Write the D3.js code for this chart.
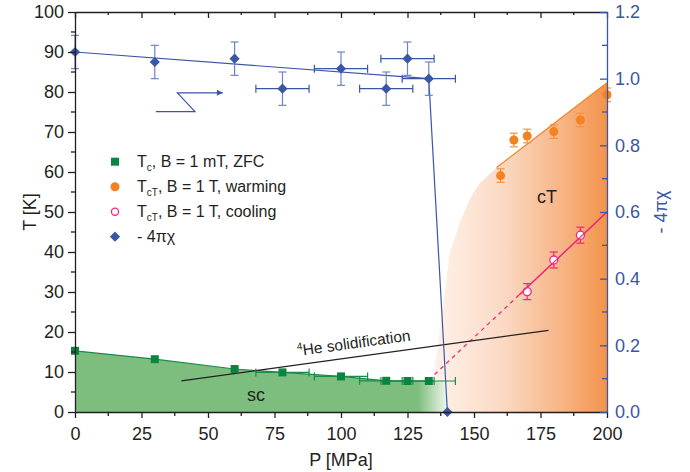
<!DOCTYPE html>
<html>
<head>
<meta charset="utf-8">
<script src="https://cdn.jsdelivr.net/npm/d3@7"></script>
<style>
  body { margin: 0; background: #fff; }
  svg { font-family: "Liberation Sans", Arial, sans-serif; }
</style>
</head>
<body>
<div id="chart"></div>
<script>
// ---- data ----
var scP = [0, 30, 60, 78, 100, 117, 125, 133];
var scT = [15.3, 13.2, 10.75, 9.9, 8.9, 7.8, 7.75, 7.75];
var scPErr = [0, 0, 0, 10, 10, 10, 10, 10];

var warmP = [160, 165, 170, 180, 190, 200];
var warmT = [59.1, 68, 69, 70.1, 73, 79.3];
var warmErr = [1.7, 1.7, 1.7, 1.7, 1.7, 1.7];
var warmFit = [[158.5, 61.1], [200, 82.3]];

var coolP = [170, 180, 190];
var coolT = [30.1, 38, 44.2];
var coolErr = [2, 2, 2];
var coolFitDash = [[133, 8], [167, 29.3]];
var coolFitSolid = [[167, 29.3], [200, 50]];

var chiP = [0, 30, 60, 78, 100, 117, 125, 133, 140];
var chiV = [1.08, 1.05, 1.06, 0.97, 1.03, 0.97, 1.06, 1.0, 0];
var chiPErr = [0, 0, 0, 10, 10, 10, 10, 10, 0];
var chiVErr = [0.05, 0.05, 0.05, 0.05, 0.05, 0.05, 0.05, 0.05, 0];
var chiFit = [[0, 1.08], [133, 1.0], [140, 0]];

var heLine = [[40, 7.8], [178, 20.4]];
var ctEdge = [[134, 0], [135, 10], [137, 20], [139, 30], [141, 40], [145, 48], [149, 54], [152, 57], [158.5, 61.1], [200, 82.3], [200, 0]];
var scEdgeEnd = [[140, 7.6], [140, 0], [0, 0]];

var xTicks = [0, 25, 50, 75, 100, 125, 150, 175, 200];
var tTicks = [0, 10, 20, 30, 40, 50, 60, 70, 80, 90, 100];
var chiTicks = [0, 0.2, 0.4, 0.6, 0.8, 1.0, 1.2];

var width = 690, height = 472;
var blue = "#3a56a6", green = "#0a8440", orange = "#f58220", pink = "#ec2a7f", ink = "#231f20";

var svg = d3.select("#chart").append("svg").attr("width", width).attr("height", height);

var x = d3.scaleLinear().domain([0, 200]).range([75, 607]);
var yT = d3.scaleLinear().domain([0, 100]).range([412, 12]);
var yC = d3.scaleLinear().domain([0, 1.2]).range([412, 12]);

var defs = svg.append("defs");
var gO = defs.append("linearGradient").attr("id", "gO").attr("gradientUnits", "userSpaceOnUse")
  .attr("x1", x(134)).attr("x2", x(200)).attr("y1", 0).attr("y2", 0);
gO.append("stop").attr("offset", 0).attr("stop-color", "#fef3eb");
gO.append("stop").attr("offset", 0.4).attr("stop-color", "#fbdac4");
gO.append("stop").attr("offset", 0.72).attr("stop-color", "#f7b78a");
gO.append("stop").attr("offset", 1).attr("stop-color", "#f3934a");

var gG = defs.append("linearGradient").attr("id", "gG").attr("gradientUnits", "userSpaceOnUse")
  .attr("x1", x(129)).attr("x2", x(140)).attr("y1", 0).attr("y2", 0);
gG.append("stop").attr("offset", 0).attr("stop-color", "#7dbe7e");
gG.append("stop").attr("offset", 1).attr("stop-color", "#f1f7ee");

var lineT = d3.line().x(function(d) { return x(d[0]); }).y(function(d) { return yT(d[1]); });
var lineC = d3.line().x(function(d) { return x(d[0]); }).y(function(d) { return yC(d[1]); });

// cT region
svg.append("path").attr("d", lineT(ctEdge) + "Z").attr("fill", "url(#gO)");

// sc region
var scPts = scP.map(function(p, i) { return [p, scT[i]]; }).concat(scEdgeEnd);
svg.append("path").attr("d", lineT(scPts) + "Z").attr("fill", "url(#gG)");

// fits
svg.append("path").attr("d", lineT(warmFit)).attr("stroke", orange).attr("stroke-width", 1.2).attr("fill", "none");
svg.append("path").attr("d", lineT(coolFitDash)).attr("stroke", pink).attr("stroke-width", 1.3)
  .attr("stroke-dasharray", "4,4").attr("fill", "none");
svg.append("path").attr("d", lineT(coolFitSolid)).attr("stroke", pink).attr("stroke-width", 1.3).attr("fill", "none");
svg.append("path").attr("d", lineT(scPts.slice(0, scP.length))).attr("stroke", "#1c8a4a").attr("stroke-width", 1.2).attr("fill", "none");
svg.append("path").attr("d", lineT(heLine)).attr("stroke", ink).attr("stroke-width", 1.2).attr("fill", "none");
svg.append("path").attr("d", lineC(chiFit)).attr("stroke", blue).attr("stroke-width", 1.2).attr("fill", "none");

// 4He label along the line
var ang = Math.atan2(yT(heLine[1][1]) - yT(heLine[0][1]), x(heLine[1][0]) - x(heLine[0][0])) * 180 / Math.PI;
var heTxt = svg.append("text").attr("transform", "translate(298,356) rotate(" + ang + ")")
  .attr("font-size", 15.5).attr("fill", ink);
heTxt.append("tspan").attr("font-size", 10).attr("dy", -6).text("4");
heTxt.append("tspan").attr("dy", 6).text("He solidification");

// error bars helper
function errV(g, px, py, e, sc, col, cap) {
  g.append("line").attr("x1", x(px)).attr("x2", x(px)).attr("y1", sc(py - e)).attr("y2", sc(py + e)).attr("stroke", col);
  [py - e, py + e].forEach(function(v) {
    g.append("line").attr("x1", x(px) - cap).attr("x2", x(px) + cap).attr("y1", sc(v)).attr("y2", sc(v)).attr("stroke", col);
  });
}
function errH(g, px, py, e, sc, col, cap) {
  g.append("line").attr("x1", x(px - e)).attr("x2", x(px + e)).attr("y1", sc(py)).attr("y2", sc(py)).attr("stroke", col);
  [px - e, px + e].forEach(function(v) {
    g.append("line").attr("x1", x(v)).attr("x2", x(v)).attr("y1", sc(py) - cap).attr("y2", sc(py) + cap).attr("stroke", col);
  });
}

var eg = svg.append("g").attr("stroke-width", 1.2);
scP.forEach(function(p, i) { if (scPErr[i]) errH(eg, p, scT[i], scPErr[i], yT, "#1c8a4a", 4); });
warmP.forEach(function(p, i) { errV(eg, p, warmT[i], warmErr[i], yT, "#f5923a", 4); });
coolP.forEach(function(p, i) { errV(eg, p, coolT[i], coolErr[i], yT, pink, 4); });
chiP.forEach(function(p, i) {
  if (chiVErr[i]) errV(eg, p, chiV[i], chiVErr[i], yC, "#6c84c4", 4);
  if (chiPErr[i]) errH(eg, p, chiV[i], chiPErr[i], yC, blue, 4);
});

// markers
var sq = d3.symbol().type(d3.symbolSquare).size(64);
var ci = d3.symbol().type(d3.symbolCircle).size(64);
var di = d3.symbol().type(d3.symbolSquare).size(52);

svg.append("g").selectAll("path").data(scP).enter().append("path")
  .attr("d", sq).attr("fill", green)
  .attr("transform", function(d, i) { return "translate(" + x(d) + "," + yT(scT[i]) + ")"; });
svg.append("g").selectAll("path").data(warmP).enter().append("path")
  .attr("d", ci).attr("fill", orange)
  .attr("transform", function(d, i) { return "translate(" + x(d) + "," + yT(warmT[i]) + ")"; });
svg.append("g").selectAll("path").data(coolP).enter().append("path")
  .attr("d", d3.symbol().type(d3.symbolCircle).size(50)).attr("fill", "#fff").attr("stroke", pink).attr("stroke-width", 1.3)
  .attr("transform", function(d, i) { return "translate(" + x(d) + "," + yT(coolT[i]) + ")"; });
svg.append("path").attr("d", lineT(coolFitSolid)).attr("stroke", pink).attr("stroke-width", 1.1).attr("fill", "none");
svg.append("g").selectAll("path").data(chiP).enter().append("path")
  .attr("d", di).attr("fill", blue)
  .attr("transform", function(d, i) { return "translate(" + x(d) + "," + yC(chiV[i]) + ") rotate(45)"; });

// arrow pointing to right axis
defs.append("marker").attr("id", "arr").attr("viewBox", "0 0 10 10").attr("refX", 10).attr("refY", 5)
  .attr("markerWidth", 10).attr("markerHeight", 6).attr("orient", "auto").attr("markerUnits", "userSpaceOnUse")
  .append("path").attr("d", "M0,0L10,5L0,10Z").attr("fill", blue);
svg.append("path").attr("d", lineT([[30.4, 75.1], [45.1, 75.1], [38.5, 79.8], [55.6, 79.8]]))
  .attr("stroke", blue).attr("stroke-width", 1.2).attr("fill", "none").attr("marker-end", "url(#arr)");

// region labels
svg.append("text").attr("x", x(68)).attr("y", yT(4.25) + 6).attr("text-anchor", "middle").attr("font-size", 18).attr("fill", ink).text("sc");
svg.append("text").attr("x", x(177.4)).attr("y", yT(53.8) + 6).attr("text-anchor", "middle").attr("font-size", 18).attr("fill", ink).text("cT");

// axes
function minor(lo, hi, step) { return d3.range(lo, hi + step / 2, step); }

var ax = svg.append("g");
var bottomAx = ax.append("g").attr("transform", "translate(0,412)")
  .call(d3.axisBottom(x).tickValues(xTicks).tickSize(6).tickPadding(9).tickSizeOuter(0));
bottomAx.append("g").selectAll("line").data(minor(12.5, 187.5, 25)).enter().append("line")
  .attr("x1", x).attr("x2", x).attr("y1", 0).attr("y2", 4);
var topAx = ax.append("g").attr("transform", "translate(0,12)")
  .call(d3.axisBottom(x).tickValues(xTicks).tickSize(6).tickFormat("").tickSizeOuter(0));
topAx.append("g").selectAll("line").data(minor(12.5, 187.5, 25)).enter().append("line")
  .attr("x1", x).attr("x2", x).attr("y1", 0).attr("y2", 3);
var leftAx = ax.append("g").attr("transform", "translate(75,0)")
  .call(d3.axisLeft(yT).tickValues(tTicks).tickSize(7).tickPadding(4).tickSizeOuter(0));
leftAx.append("g").selectAll("line").data(minor(5, 95, 10)).enter().append("line")
  .attr("y1", yT).attr("y2", yT).attr("x1", 0).attr("x2", -4);
var rightAx = ax.append("g").attr("transform", "translate(607,0)")
  .call(d3.axisRight(yC).tickValues(chiTicks).tickSize(-7).tickPadding(8).tickSizeOuter(0)
    .tickFormat(d3.format(".1f")));
rightAx.append("g").selectAll("line").data(minor(0.1, 1.1, 0.2)).enter().append("line")
  .attr("y1", yC).attr("y2", yC).attr("x1", 0).attr("x2", -5);

[bottomAx, topAx, leftAx].forEach(function(g) {
  g.selectAll("path,line").attr("stroke", ink).attr("stroke-width", 1.3);
  g.selectAll("text").attr("fill", ink).attr("font-size", 18).attr("font-family", "Liberation Sans, Arial, sans-serif");
});
rightAx.selectAll("path,line").attr("stroke", blue).attr("stroke-width", 1.3);
rightAx.selectAll("text").attr("fill", blue).attr("font-size", 18).attr("font-family", "Liberation Sans, Arial, sans-serif");

// axis titles
svg.append("text").attr("x", x(100)).attr("y", 466).attr("text-anchor", "middle").attr("font-size", 18).attr("fill", ink).text("P [MPa]");
svg.append("text").attr("transform", "translate(36,212) rotate(-90)").attr("text-anchor", "middle").attr("font-size", 18).attr("fill", ink).text("T [K]");
svg.append("text").attr("transform", "translate(667,212) rotate(-90)").attr("text-anchor", "middle").attr("font-size", 18).attr("fill", blue).text("- 4πχ");

// legend
var legend = [
  { sym: sq, fill: green, stroke: "none", rot: 0, main: "T", sub: "c", rest: ", B = 1 mT, ZFC" },
  { sym: ci, fill: orange, stroke: "none", rot: 0, main: "T", sub: "cT", rest: ", B = 1 T, warming" },
  { sym: d3.symbol().type(d3.symbolCircle).size(40), fill: "#fff", stroke: pink, rot: 0, main: "T", sub: "cT", rest: ", B = 1 T, cooling" },
  { sym: di, fill: blue, stroke: "none", rot: 45, main: "- 4πχ", sub: "", rest: "" }
];
var lg = svg.append("g").attr("transform", "translate(115,161.7)");
legend.forEach(function(d, i) {
  var row = lg.append("g").attr("transform", "translate(0," + i * 25 + ")");
  row.append("path").attr("d", d.sym).attr("fill", d.fill).attr("stroke", d.stroke).attr("stroke-width", 1.3)
    .attr("transform", "rotate(" + d.rot + ")");
  var t = row.append("text").attr("x", 22).attr("y", 5.5).attr("font-size", 16).attr("fill", ink);
  t.append("tspan").text(d.main);
  if (d.sub) {
    t.append("tspan").attr("font-size", 10).attr("dy", 4).text(d.sub);
    t.append("tspan").attr("dy", -4).text(d.rest);
  }
});
</script>
</body>
</html>
